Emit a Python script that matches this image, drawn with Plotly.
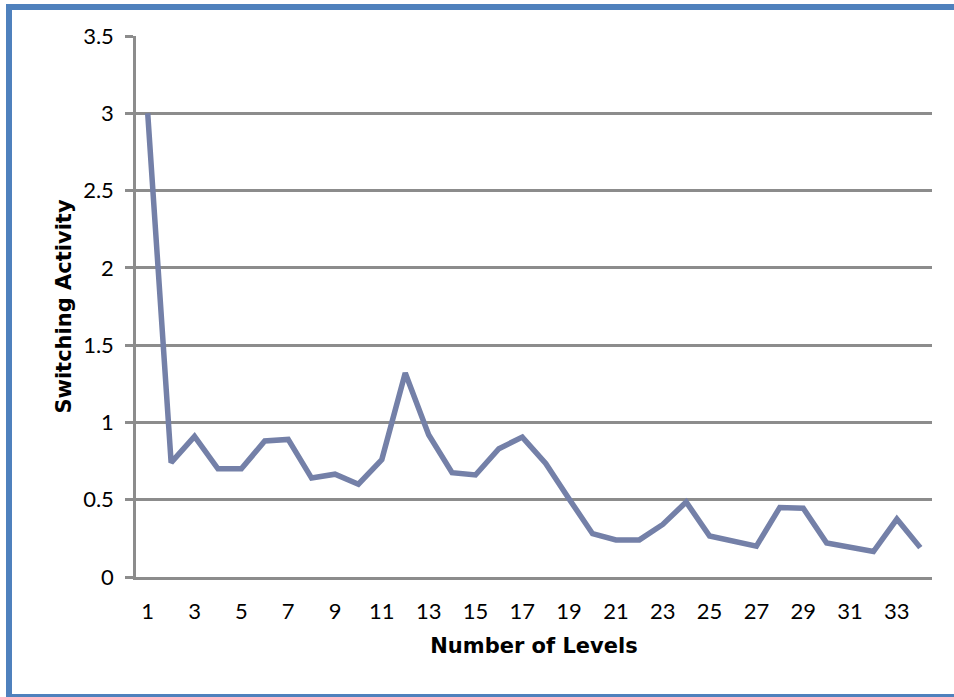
import plotly.graph_objects as go

levels = [1, 2, 3, 4, 5, 6, 7, 8, 9, 10, 11, 12, 13, 14, 15, 16, 17,
          18, 19, 20, 21, 22, 23, 24, 25, 26, 27, 28, 29, 30, 31, 32, 33, 34]
switching = [3.0, 0.74, 0.91, 0.70, 0.70, 0.88, 0.89, 0.64, 0.665, 0.60, 0.76,
             1.32, 0.92, 0.675, 0.66, 0.83, 0.905, 0.735, 0.505, 0.28, 0.24,
             0.24, 0.34, 0.485, 0.265, 0.235, 0.20, 0.45, 0.445, 0.22, 0.19,
             0.165, 0.375, 0.19]
x_tickvals = [1, 3, 5, 7, 9, 11, 13, 15, 17, 19, 21, 23, 25, 27, 29, 31, 33]
x_ticktext = ["1", "3", "5", "7", "9", "11", "13", "15", "17", "19", "21",
              "23", "25", "27", "29", "31", "33"]
y_tickvals = [0, 0.5, 1, 1.5, 2, 2.5, 3, 3.5]
y_ticktext = ["0", "0.5", "1", "1.5", "2", "2.5", "3", "3.5"]

FONT = "Lato"
TITLE_FONT = "DejaVu Sans"
GRID = "#8c8c8c"

fig = go.Figure()
fig.add_trace(go.Scatter(
    x=levels, y=switching, mode="lines",
    line=dict(color="#7480a8", width=5.5),
    showlegend=False, hoverinfo="x+y",
))

L, R, T, B = 136, 932, 36, 577
W, H = 954, 697
pw, ph = R - L, B - T

def px_x(p):
    return (p - L) / pw

def px_y(p):
    return (B - p) / ph

fig.update_layout(
    width=W, height=H,
    margin=dict(l=L, r=W - R, t=T, b=H - B, pad=0),
    paper_bgcolor="white", plot_bgcolor="white",
    font=dict(family=FONT, size=22, color="black"),
    xaxis=dict(
        range=[0.5, 34.5], tickmode="array", tickvals=x_tickvals,
        ticktext=x_ticktext, showgrid=False, zeroline=False,
        showline=True, linecolor=GRID, linewidth=2.5, ticks="",
        ticklabelstandoff=13,
        title=dict(text="<b>Number of Levels</b>",
                   font=dict(family=TITLE_FONT, size=21), standoff=16),
    ),
    yaxis=dict(
        range=[0, 3.5], tickmode="array", tickvals=y_tickvals,
        ticktext=y_ticktext, showgrid=True, gridcolor=GRID, gridwidth=2.5,
        zeroline=False, showline=True, linecolor=GRID, linewidth=2.5,
        ticks="outside", ticklen=8, tickcolor=GRID, tickwidth=2.5,
        ticklabelstandoff=7,
        title=dict(text="<b>Switching Activity</b>",
                   font=dict(family=TITLE_FONT, size=21), standoff=6),
    ),
    shapes=[dict(
        type="rect", xref="paper", yref="paper",
        x0=px_x(9), x1=px_x(962), y0=px_y(697), y1=px_y(7),
        line=dict(color="#4f81bd", width=6), fillcolor="rgba(0,0,0,0)",
        layer="above",
    )],
)

fig.write_html(
    "out.html",
    config={"displayModeBar": False},
    post_script="document.body.style.margin='0';document.body.style.overflow='hidden';",
)
